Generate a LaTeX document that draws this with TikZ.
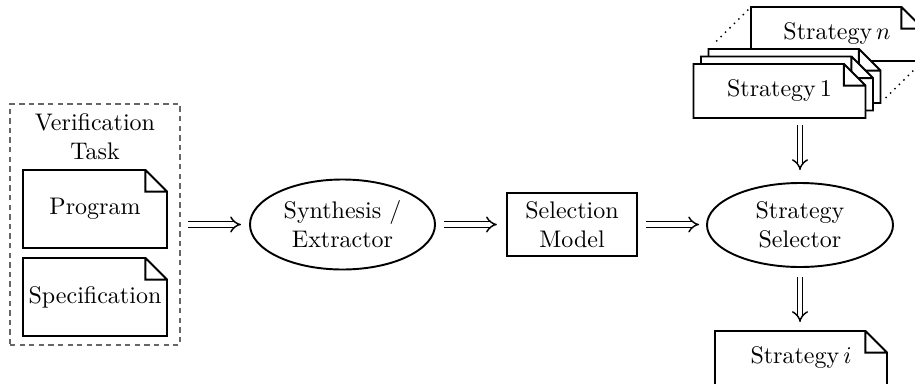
\documentclass[tikz,border=0pt]{standalone}
\usetikzlibrary{arrows.meta,shapes.geometric,calc}
\newcommand\docfold{9pt}
\makeatletter
\pgfdeclareshape{docpage}{
  \inheritsavedanchors[from=rectangle]
  \inheritanchorborder[from=rectangle]
  \inheritanchor[from=rectangle]{center}
  \inheritanchor[from=rectangle]{north}
  \inheritanchor[from=rectangle]{south}
  \inheritanchor[from=rectangle]{east}
  \inheritanchor[from=rectangle]{west}
  \inheritanchor[from=rectangle]{north east}
  \inheritanchor[from=rectangle]{north west}
  \inheritanchor[from=rectangle]{south east}
  \inheritanchor[from=rectangle]{south west}
  \inheritanchor[from=rectangle]{mid}
  \inheritanchor[from=rectangle]{base}
  \inheritanchor[from=rectangle]{text}
  \backgroundpath{%
    \southwest \edef\dxa{\the\pgf@x}\edef\dya{\the\pgf@y}%
    \northeast \edef\dxb{\the\pgf@x}\edef\dyb{\the\pgf@y}%
    \pgf@xc=\dxb\relax \advance\pgf@xc by -\docfold\relax \edef\dxc{\the\pgf@xc}%
    \pgf@yc=\dyb\relax \advance\pgf@yc by -\docfold\relax \edef\dyc{\the\pgf@yc}%
    \pgfpathmoveto{\pgfqpoint{\dxa}{\dya}}%
    \pgfpathlineto{\pgfqpoint{\dxa}{\dyb}}%
    \pgfpathlineto{\pgfqpoint{\dxc}{\dyb}}%
    \pgfpathlineto{\pgfqpoint{\dxb}{\dyc}}%
    \pgfpathlineto{\pgfqpoint{\dxb}{\dya}}%
    \pgfpathclose
    \pgfpathmoveto{\pgfqpoint{\dxb}{\dyc}}%
    \pgfpathlineto{\pgfqpoint{\dxc}{\dyc}}%
    \pgfpathlineto{\pgfqpoint{\dxc}{\dyb}}%
  }
}
\makeatother
\begin{document}
\begin{tikzpicture}[x=0.41667pt, y=-0.41667pt,
  docbox/.style={shape=docpage, draw, thick, fill=white, outer sep=0pt, inner sep=1pt, align=center},
  bigdoc/.style={docbox, minimum width=60pt, minimum height=32.5pt},
  stratdoc/.style={docbox, minimum width=71.67pt, minimum height=22.5pt},
  ellnode/.style={ellipse, draw, thick, align=center, inner sep=0pt, outer sep=0pt},
  boxnode/.style={rectangle, draw, thick, align=center, outer sep=0pt},
  taskbox/.style={rectangle, draw=black!60, dash pattern=on 2.2pt off 1.8pt, line width=0.6pt, outer sep=0pt, minimum width=70.83pt, minimum height=100.4pt},
  imparrow/.style={double, double distance=1.7pt, line width=0.6pt, -{Implies[length=5.5pt, width=8.5pt]}},
  dotline/.style={line width=0.6pt, dotted}
]
\useasboundingbox (0,0) rectangle (915,383);

% verification task
\node[taskbox] (task) at (95,224.5) {};
\node[align=center, inner sep=0pt] (tasklbl) at (95,137) {Verification\\Task};
\node[bigdoc] (prog) at (95,209) {Program};
\node[bigdoc] (spec) at (95,297) {Specification};

% pipeline
\node[ellnode, minimum width=77.1pt, minimum height=37.5pt] (synth) at (342.5,224.5) {Synthesis /\\Extractor};
\node[boxnode, minimum width=54.2pt, minimum height=26.25pt] (sel) at (572,224.5) {Selection\\Model};
\node[ellnode, minimum width=77.5pt, minimum height=35pt] (selector) at (800,225) {Strategy\\Selector};

% strategy stack
\node[stratdoc] (sn) at (837,34) {Strategy\,$n$};
\node[stratdoc] (s3) at (794.5,76) {};
\node[stratdoc] (s2) at (787,83.5) {};
\node[stratdoc] (s1) at (779.5,91) {Strategy\,$1$};
\draw[dotline, shorten <=4.5pt, shorten >=1.5pt] (s3.north west) -- (sn.north west);
\draw[dotline, shorten <=3pt, shorten >=1.5pt] (s3.south east) -- (sn.south east);

% result
\node[stratdoc] (si) at (801,358) {Strategy\,$i$};

% arrows
\draw[imparrow, shorten <=3.3pt, shorten >=3.75pt] (task.east) -- (task.east -| synth.west);
\draw[imparrow, shorten <=3.75pt, shorten >=4.2pt] (synth.east) -- (sel.west);
\draw[imparrow, shorten <=3.75pt, shorten >=3.3pt] (sel.east) -- (sel.east -| selector.west);
\draw[imparrow, shorten <=2.9pt, shorten >=5.4pt] (selector.north |- s1.south) -- (selector.north);
\draw[imparrow, shorten <=4.2pt, shorten >=3.75pt] (selector.south) -- (selector.south |- si.north);
\end{tikzpicture}
\end{document}
